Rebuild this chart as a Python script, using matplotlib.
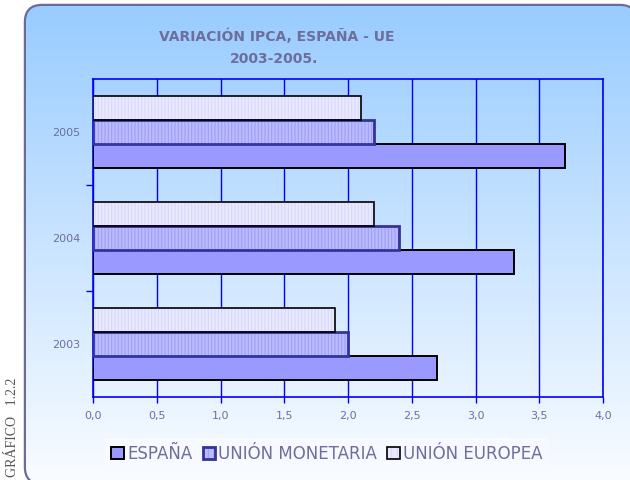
import numpy as np
import matplotlib
matplotlib.use('Agg')
import matplotlib.pyplot as plt
from matplotlib.patches import FancyBboxPatch, Patch

# Data
years = ['2003', '2004', '2005']
espana = [2.7, 3.3, 3.7]
union_monetaria = [2.0, 2.4, 2.2]
union_europea = [1.9, 2.2, 2.1]
xticks = [0.0, 0.5, 1.0, 1.5, 2.0, 2.5, 3.0, 3.5, 4.0]
xtick_labels = ['0,0', '0,5', '1,0', '1,5', '2,0', '2,5', '3,0', '3,5', '4,0']

text_col = '#6E6E9C'
plt.rcParams['hatch.linewidth'] = 0.7

fig = plt.figure(figsize=(6.3, 4.8), dpi=100)

# Rounded background box with a vertical gradient (runs past the right/bottom edge)
bg = fig.add_axes([0, 0, 1, 1], zorder=-1)
bg.axis('off')
box_xy, box_w, box_h = (26, 6), 610, 477
border = FancyBboxPatch(box_xy, box_w, box_h, boxstyle='round,pad=0,rounding_size=16',
                        facecolor='white', edgecolor='#6B6B9B', lw=3.2, zorder=0)
clipbox = FancyBboxPatch(box_xy, box_w, box_h, boxstyle='round,pad=0,rounding_size=16',
                         facecolor='none', edgecolor='none')
bg.add_patch(border)
bg.add_patch(clipbox)
t = np.linspace(0, 1, 256)[:, None]
top = np.array([153, 204, 255]) / 255
bot = np.array([250, 252, 255]) / 255
img = top[None, None, :] * (1 - t[..., None]) + bot[None, None, :] * t[..., None]
img = np.repeat(img, 2, axis=1)
im = bg.imshow(img, extent=[26, 636, 483, 6], aspect='auto', zorder=1)
im.set_clip_path(clipbox)
bg.set_xlim(0, 630)
bg.set_ylim(480, 0)

ax = fig.add_axes([93 / 630, 1 - 397 / 480, 510 / 630, 318 / 480])
ax.set_facecolor('none')

y = np.arange(len(years))
h = 0.225

# España
ax.barh(y - h, espana, height=h, color='#9999FF', edgecolor='black', lw=1.4, zorder=3)
# Unión Monetaria: hatched fill, then outline
ax.barh(y, union_monetaria, height=h, color='#BABAFF', edgecolor='#9C9CF5', hatch='|||||',
        lw=0, zorder=3)
ax.barh(y, union_monetaria, height=h, fill=False, edgecolor='#333399', lw=2, zorder=4)
# Unión Europea
ax.barh(y + h, union_europea, height=h, color='#E8E8FF', edgecolor='#D6D6FA', hatch='|||||',
        lw=0, zorder=3)
ax.barh(y + h, union_europea, height=h, fill=False, edgecolor='black', lw=1.2, zorder=4)

ax.set_xlim(0, 4)
ax.set_ylim(-0.5, 2.5)
ax.set_xticks(xticks)
ax.set_xticklabels(xtick_labels)
ax.set_yticks(y)
ax.set_yticklabels(years)
ax.set_yticks([0.5, 1.5], minor=True)
ax.tick_params(axis='y', which='major', length=0, pad=9, labelsize=8, labelcolor=text_col)
ax.tick_params(axis='y', which='minor', length=5, color='#0000FF', width=1)
ax.tick_params(axis='x', length=4, color='#0000FF', width=1, pad=6, labelsize=8,
               labelcolor=text_col)
ax.grid(axis='x', color='#0000FF', lw=1, zorder=1)
ax.set_axisbelow(True)
for s in ax.spines.values():
    s.set_color('#0000FF')
    s.set_linewidth(1.2)

fig.text(277 / 630, 1 - 36 / 480, 'VARIACIÓN IPCA, ESPAÑA - UE', ha='center', va='center',
         fontsize=10, fontweight='bold', color=text_col)
fig.text(274 / 630, 1 - 59 / 480, '2003-2005.', ha='center', va='center',
         fontsize=10, fontweight='bold', color=text_col)

fig.text(12 / 630, 1 - 427 / 480, 'GRÁFICO   1.2.2', rotation=90, ha='center', va='center',
         fontsize=10, family='Liberation Serif', color='#555555')

handles = [
    (Patch(facecolor='#9999FF', edgecolor='black', lw=1.4),),
    (Patch(facecolor='#BABAFF', edgecolor='#9C9CF5', hatch='|||', lw=0),
     Patch(fill=False, edgecolor='#333399', lw=2)),
    (Patch(facecolor='#E8E8FF', edgecolor='#D6D6FA', hatch='|||', lw=0),
     Patch(fill=False, edgecolor='black', lw=1.2)),
]
leg = fig.legend(handles, ['ESPAÑA', 'UNIÓN MONETARIA', 'UNIÓN EUROPEA'], ncol=3,
                 loc='center', bbox_to_anchor=(327 / 630, 1 - 454 / 480),
                 fontsize=12, handlelength=0.75, handleheight=0.75, handletextpad=0.2,
                 columnspacing=0.6, frameon=True, fancybox=False, borderpad=0.4)
leg.get_frame().set_facecolor('#F8FAFF')
leg.get_frame().set_edgecolor('none')
for txt in leg.get_texts():
    txt.set_color(text_col)

fig.savefig('out.png', dpi=100)
